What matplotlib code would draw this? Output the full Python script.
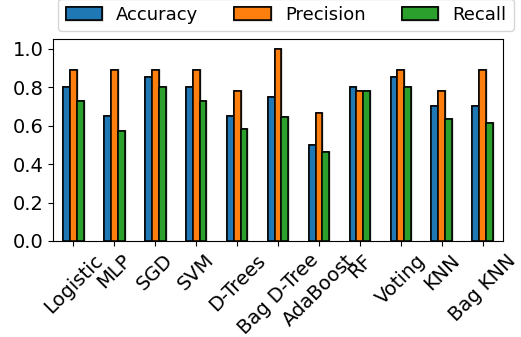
import matplotlib
matplotlib.use('Agg')
import matplotlib.pyplot as plt
import matplotlib.patheffects as pe
import numpy as np
import pandas as pd

models = ['Logistic', 'MLP', 'SGD', 'SVM', 'D-Trees', 'Bag D-Tree',
          'AdaBoost', 'RF', 'Voting', 'KNN', 'Bag KNN']
accuracy = [0.80, 0.65, 0.85, 0.80, 0.65, 0.75, 0.50, 0.80, 0.85, 0.70, 0.70]
precision = [0.889, 0.889, 0.889, 0.889, 0.778, 1.0, 0.667, 0.778, 0.889, 0.778, 0.889]
recall = [0.727, 0.571, 0.80, 0.727, 0.583, 0.643, 0.462, 0.778, 0.80, 0.636, 0.615]

df = pd.DataFrame({'Accuracy': accuracy, 'Precision': precision, 'Recall': recall},
                  index=models)

fig = plt.figure(figsize=(5.21, 3.37), dpi=100)
ax = fig.add_axes([53/521, 1 - 241/337, 450/521, 202/337])
df.plot.bar(ax=ax, edgecolor='black', linewidth=1.1, legend=False)
for p in ax.patches:
    p.set_path_effects([pe.withStroke(linewidth=2.0, foreground='#dddddd'), pe.Normal()])

ax.set_ylim(0, 1.05)
ax.set_yticks([0.0, 0.2, 0.4, 0.6, 0.8, 1.0])
ax.tick_params(axis='both', labelsize=14)
plt.setp(ax.get_xticklabels(), rotation=45, ha='center')

handles, labels = ax.get_legend_handles_labels()
fig.legend(handles, labels, loc='lower center', bbox_to_anchor=(286/521, 1 - 31/337),
           ncol=3, fontsize=13, borderaxespad=0)

fig.savefig('out.png', dpi=100)
